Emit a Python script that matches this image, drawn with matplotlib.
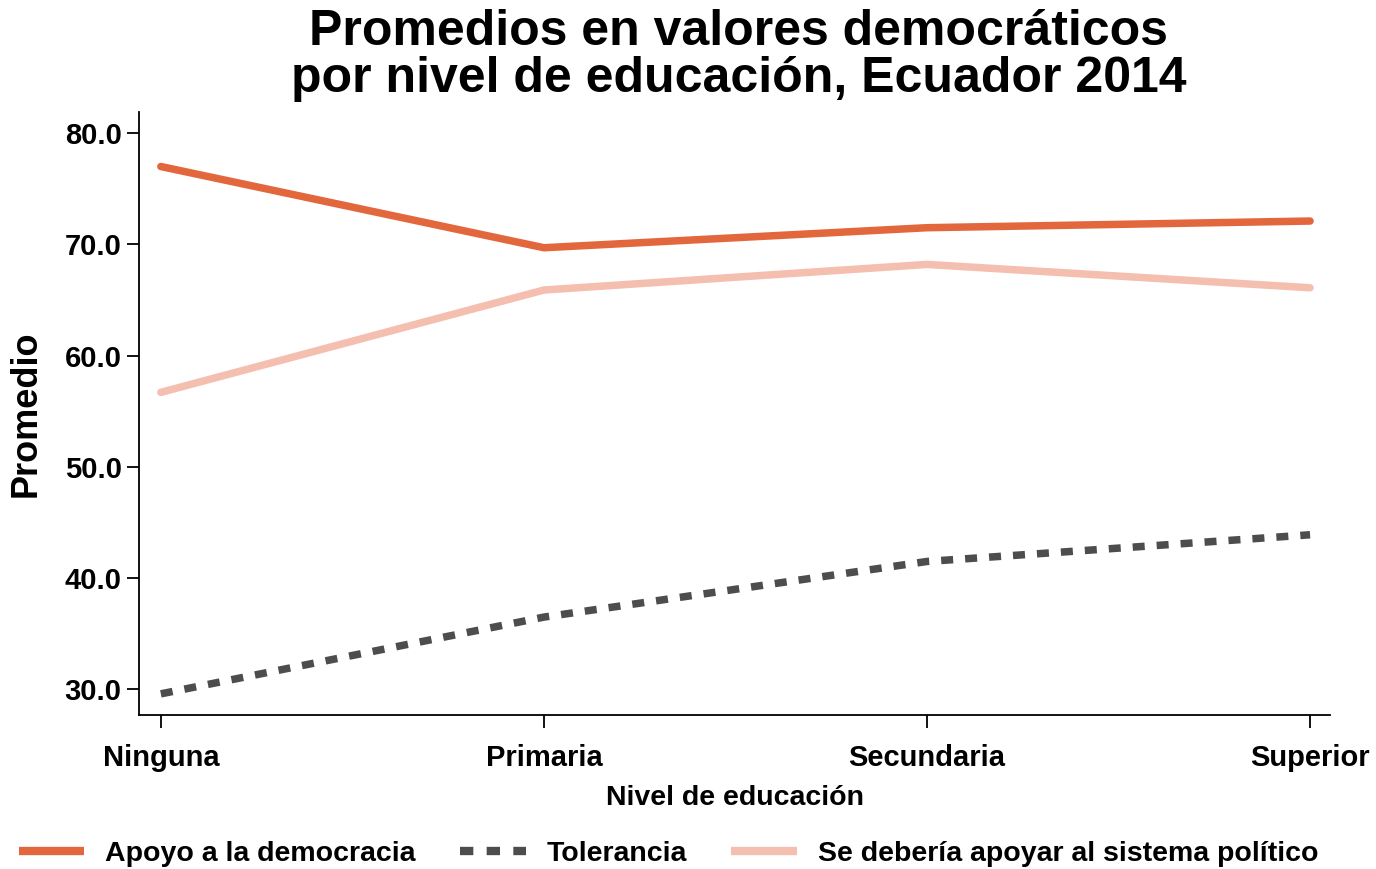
import numpy as np
import matplotlib.pyplot as plt

plt.rcParams['font.family'] = ['Liberation Sans', 'DejaVu Sans']
plt.rcParams['font.weight'] = 'bold'

niveles = ['Ninguna', 'Primaria', 'Secundaria', 'Superior']
apoyo = [77.0, 69.7, 71.5, 72.1]
tolerancia = [29.6, 36.5, 41.5, 43.9]
sistema = [56.7, 65.9, 68.2, 66.1]
yticks = [30, 40, 50, 60, 70, 80]

x = np.arange(len(niveles))

fig = plt.figure(figsize=(13.76, 8.69), dpi=100)
ax = fig.add_axes([139/1376, 1 - 715/869, (1330-139)/1376, (715-112)/869])

ax.plot(x, apoyo, color='#E3673D', lw=5.4, solid_capstyle='round',
        label='Apoyo a la democracia')
ax.plot(x, tolerancia, color='#4D4D4D', lw=5.4, linestyle=(0, (1.6, 1.6)),
        label='Tolerancia')
ax.plot(x, sistema, color='#F4BFAE', lw=5.4, solid_capstyle='round',
        label='Se debería apoyar al sistema político')

ax.set_xlim(-0.057, 3.052)
ax.set_ylim(27.7, 81.9)
ax.set_xticks(x)
ax.set_xticklabels(niveles)
ax.set_yticks(yticks)
ax.set_yticklabels([f'{v:.1f}' for v in yticks])
ax.tick_params(axis='both', labelsize=21, length=9, width=1.3, direction='out')
ax.tick_params(axis='x', pad=12)
for s in ['top', 'right']:
    ax.spines[s].set_visible(False)
for s in ['left', 'bottom']:
    ax.spines[s].set_linewidth(1.3)

ax.set_xlabel('Nivel de educación', fontsize=20.5, fontweight='bold', labelpad=9)
ax.set_ylabel('Promedio', fontsize=26, fontweight='bold', labelpad=15)

fig.suptitle('Promedios en valores democráticos\npor nivel de educación, Ecuador 2014',
             fontsize=36, fontweight='bold', x=0.537, y=0.99, linespacing=1.05)

leg = fig.legend(loc='lower center', bbox_to_anchor=(0.486, -0.027), ncol=3, frameon=False,
                 fontsize=20.5, handlelength=2.3, columnspacing=1.55, handletextpad=0.75)
for ln in leg.get_lines():
    ln.set_linewidth(6)
    ln.set_solid_capstyle('butt')

fig.savefig('out.png', dpi=100)
